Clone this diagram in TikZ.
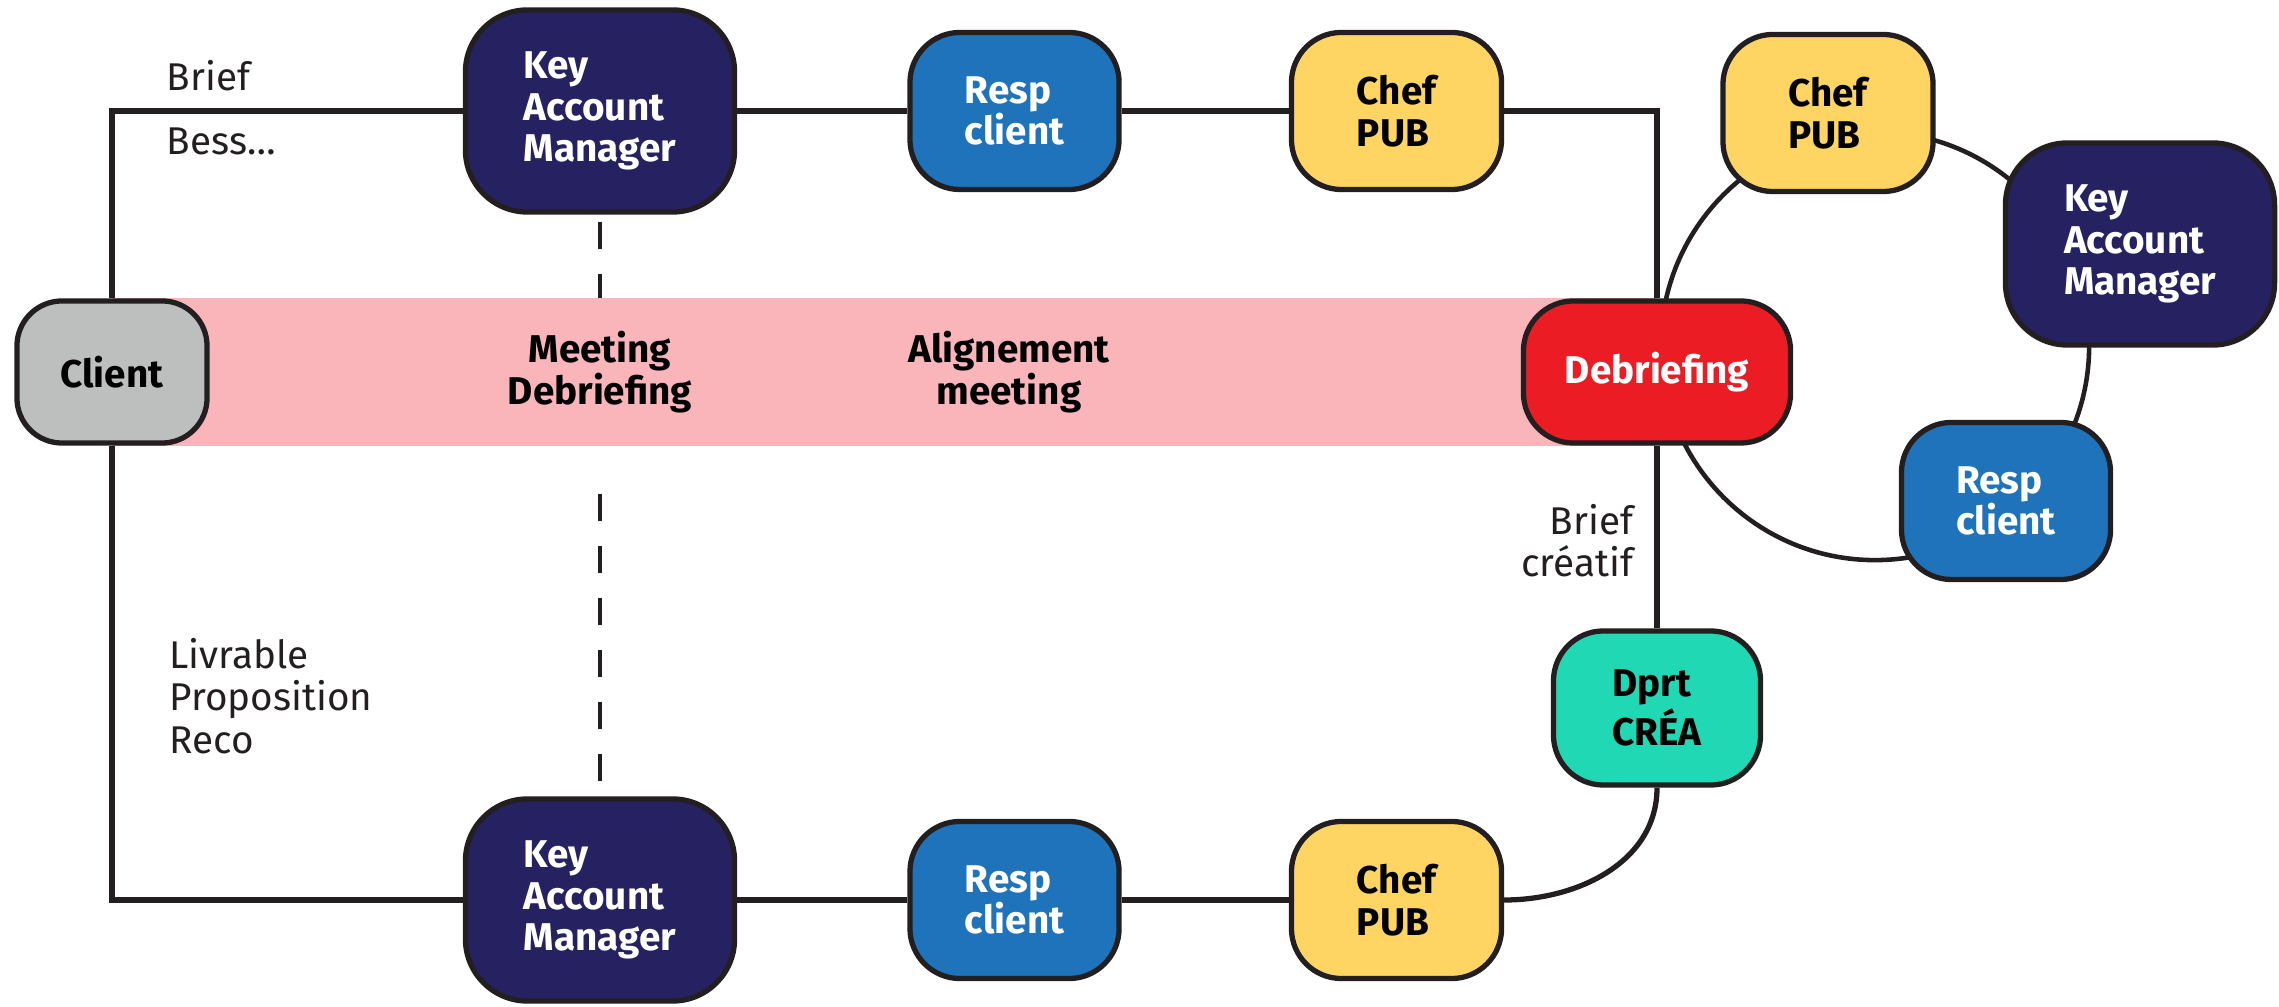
\documentclass[tikz,border=0pt]{standalone}
\usepackage{fontspec}
\setmainfont{Fira Sans}
\usepackage{tikz}
\usetikzlibrary{positioning,backgrounds}

\definecolor{ink}{HTML}{231F20}
\definecolor{kamblue}{HTML}{262262}
\definecolor{respblue}{HTML}{1F73BA}
\definecolor{chefyellow}{HTML}{FED563}
\definecolor{debred}{HTML}{EC1C24}
\definecolor{creagreen}{HTML}{20D8B4}
\definecolor{clientgray}{HTML}{BDBFBE}
\definecolor{bandpink}{HTML}{F9B5BA}

\begin{document}
\begin{tikzpicture}[x=0.01cm,y=0.01cm,
    box/.style={draw=ink,line width=1.5pt,rounded corners=0.5cm,align=left,
                font=\fontsize{11}{11.8}\selectfont\bfseries,inner sep=0pt},
    kam/.style={box,fill=kamblue,text=white,minimum width=2.69cm,minimum height=2.02cm,rounded corners=0.62cm},
    resp/.style={box,fill=respblue,text=white,minimum width=2.09cm,minimum height=1.57cm},
    chef/.style={box,fill=chefyellow,minimum width=2.1cm,minimum height=1.57cm},
    link/.style={draw=ink,line width=1.5pt},
    dashline/.style={draw=ink,line width=1.4pt,dash pattern=on 0.27cm off 0.25cm},
    meet/.style={align=center,font=\fontsize{11}{11.8}\selectfont\bfseries},
    lbl/.style={text=ink,inner sep=0pt,font=\fontsize{11}{12}\selectfont}]

  \useasboundingbox (0,0) rectangle (2279,1006);

  \node[box,fill=clientgray,minimum width=1.9cm,minimum height=1.42cm,rounded corners=0.45cm] (client) at (112,634) {Client};
  \node[box,fill=debred,text=white,minimum width=2.67cm,minimum height=1.42cm] (deb) at (1657,634) {Debriefing};

  \node[kam]  (kamT) at (600,895) {Key\\Account\\Manager};
  \node[resp] (respT) [right=1.7cm of kamT] {Resp\\client};
  \node[chef] (chefT) [right=1.67cm of respT] {Chef\\PUB};

  \node[kam]  (kamB) at (600,106) {Key\\Account\\Manager};
  \node[resp] (respB) [right=1.7cm of kamB] {Resp\\client};
  \node[chef] (chefB) [right=1.67cm of respB] {Chef\\PUB};

  \node[box,fill=creagreen,minimum width=2.07cm,minimum height=1.54cm] (crea) at (1657,298) {Dprt\\CRÉA};

  \coordinate (ring) at (1875,660);
  \node[chef] (chefR) at (1828,893) {Chef\\PUB};
  \node[kam]  (kamR)  at (2140,762) {Key\\Account\\Manager};
  \node[resp] (respR) at (2006,505) {Resp\\client};

  \node[meet] (meetDeb)  at (600,634)  {Meeting\\Debriefing};
  \node[meet] (alignMeet) at (1009,634) {Alignement\\meeting};

  \node[lbl,anchor=west] (brief) at (166,930) {Brief};
  \node[lbl,anchor=west] (bess)  at (166,865) {Bess…};
  \node[lbl,anchor=west,align=left]  (livr)   at (169,310) {Livrable\\Proposition\\Reco};
  \node[lbl,anchor=east,align=right] (briefC) at (1634,465) {Brief\\créatif};

  \coordinate (dashTop) at (600,512);
  \coordinate (dashEnd) at (600,224);

  \begin{scope}[on background layer]
    \fill[bandpink] (client.north) rectangle (deb.south);
    \draw[link] (client.north) |- (kamT.west)
                (kamT.east) -- (respT.west)
                (respT.east) -- (chefT.west)
                (chefT.east) -| (deb.north);
    \draw[link] (client.south) |- (kamB.west)
                (kamB.east) -- (respB.west)
                (respB.east) -- (chefB.west);
    \draw[link] (deb.south) -- (crea.north);
    \draw[link] (chefB.east) to[out=0,in=-90] (crea.south);
    \draw[link,line width=1.3pt] (ring) circle[radius=2.14cm];
    \draw[dashline] ([yshift=-0.07cm]kamT.south) -- (kamT.south |- client.north);
    \draw[dashline] (dashTop) -- (dashEnd);
  \end{scope}
\end{tikzpicture}
\end{document}
